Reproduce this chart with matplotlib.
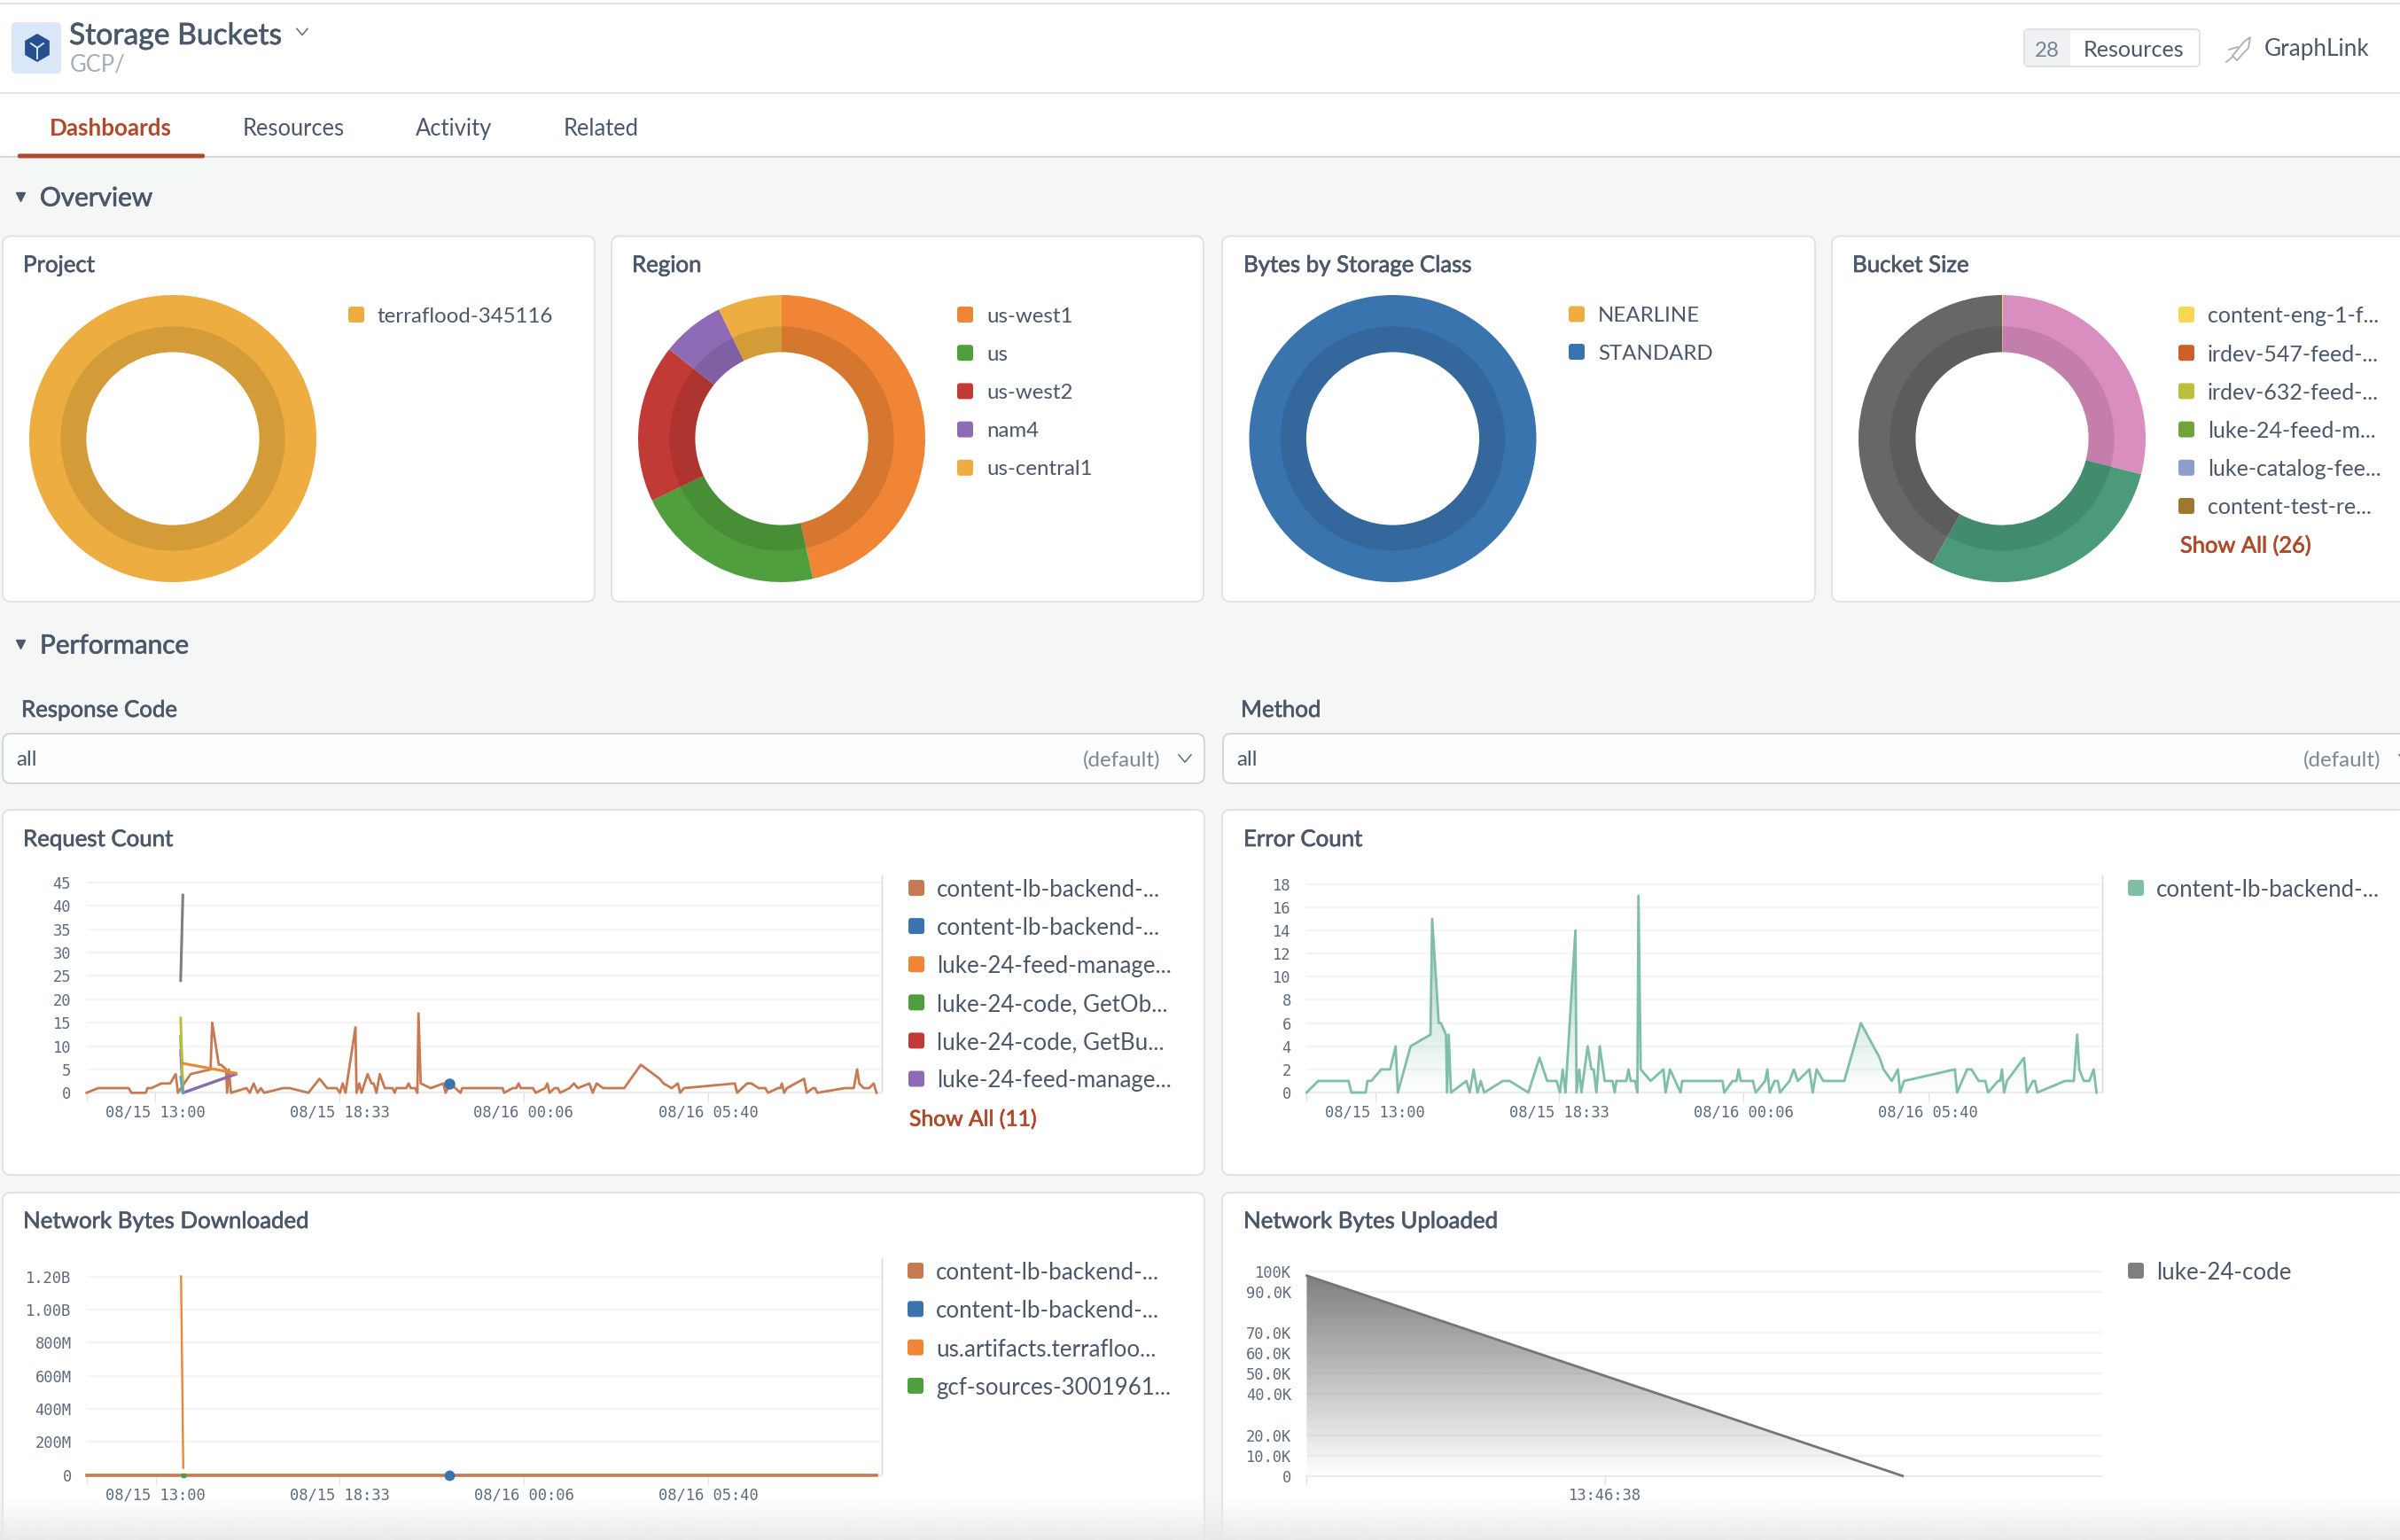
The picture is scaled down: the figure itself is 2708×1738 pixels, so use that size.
import matplotlib

matplotlib.use("Agg")
import matplotlib.patheffects as pe
import matplotlib.pyplot as plt
import numpy as np
from matplotlib.patches import FancyBboxPatch, Polygon, Rectangle, RegularPolygon

W, H = 2708, 1738
DPI = 100
PX = 72 / DPI  # one pixel in points

BG = "#f5f7f7"
INK = "#4a586a"
ACCENT = "#b0492a"
GRID = "#f3f4f5"
TICK_TEXT = "#5d6b7b"
MONO = "DejaVu Sans Mono"

YELLOW = "#edad40"
ORANGE = "#ef8535"
GREEN = "#509f3e"
RED = "#c23a35"
PURPLE = "#8f6ab6"
BLUE = "#3a74ae"
BROWN = "#c77a52"
TEAL = "#7fbfa5"
GRAY = "#7f7f7f"
OLIVE = "#bdbd3e"
SKY = "#5ba5c9"

# donut shares
project_names = ["terraflood-345116"]
project_values = [100]
region_names = ["us-west1", "us", "us-west2", "nam4", "us-central1"]
region_values = [46.5, 21.4, 17.8, 7.1, 7.2]
storage_names = ["NEARLINE", "STANDARD"]
storage_values = [0, 100]
bucket_names = [
    "content-eng-1-f...",
    "irdev-547-feed-...",
    "irdev-632-feed-...",
    "luke-24-feed-m...",
    "luke-catalog-fee...",
    "content-test-re...",
]
bucket_values = [0.1, 28.9, 29.1, 41.9]
bucket_colors = ["#f9d654", "#da8dbf", "#4b9b7a", "#676767"]
bucket_legend_colors = ["#f9d654", "#cc6028", "#bdbd3e", "#71a33a", "#8e9dc9", "#a0772f"]

# minutes after 08/15 13:00
backend_minutes = [
    -124, -103, -48, -43, -17, -14, -7, 11, 27, 37, 41, 64, 100, 103, 115, 119,
    128, 130, 133, 137, 165, 171, 178, 185, 191, 197, 231, 243, 277, 297, 311,
    328, 334, 339, 344, 362, 364, 369, 373, 384, 391, 395, 400, 406, 415, 429,
    433, 436, 454, 458, 462, 470, 474, 476, 480, 498, 521, 525, 533, 552, 555,
    628, 631, 646, 653, 657, 661, 683, 688, 705, 709, 713, 722, 728, 732, 749,
    757, 764, 785, 791, 798, 810, 848, 878, 912, 919, 934, 945, 949, 956, 1048,
    1052, 1070, 1078, 1091, 1103, 1108, 1126, 1130, 1133, 1137, 1142, 1173,
    1178, 1189, 1193, 1197, 1247, 1263, 1269, 1273, 1281, 1291, 1299, 1304,
]
backend_counts = [
    0, 1, 1, 0, 0, 1, 1, 2, 2, 4, 0, 4, 5, 15, 6, 6,
    5, 0, 5, 0, 1, 0, 2, 0, 1, 0, 1, 1, 0, 3, 1,
    1, 0, 2, 0, 14, 0, 2, 0, 4, 2, 2, 0, 4, 1, 1,
    0, 1, 1, 2, 1, 1, 0, 17, 2, 1, 2, 0, 2, 0, 1,
    1, 0, 1, 1, 2, 1, 1, 0, 1, 2, 0, 1, 1, 0, 1,
    2, 1, 2, 0, 2, 1, 1, 6, 3, 2, 1, 2, 0, 1, 2,
    0, 2, 2, 1, 1, 0, 1, 1, 2, 0, 1, 3,
    0, 1, 1, 0, 1, 1, 5, 2, 1, 1, 2, 0,
]

# short series at the left of Request Count: (minutes, counts, colour)
request_extra = [
    ([50, 46], [42.3, 24], GRAY),
    ([46, 50, 146], [12, 0, 4], GREEN),
    ([46, 50, 146], [9, 0, 4], PURPLE),
    ([46, 50], [16, 0.5], OLIVE),
    ([46, 50], [3.3, 0], SKY),
    ([50, 146], [6.3, 4.2], ORANGE),
]
request_dot = (532, 2)

request_ticks = [0, 5, 10, 15, 20, 25, 30, 35, 40, 45]
error_ticks = [0, 2, 4, 6, 8, 10, 12, 14, 16, 18]
time_ticks = [0, 333, 666, 1000]
time_labels = ["08/15 13:00", "08/15 18:33", "08/16 00:06", "08/16 05:40"]

request_legend = [
    "content-lb-backend-...",
    "content-lb-backend-...",
    "luke-24-feed-manage...",
    "luke-24-code, GetOb...",
    "luke-24-code, GetBu...",
    "luke-24-feed-manage...",
]
request_legend_colors = [BROWN, BLUE, ORANGE, GREEN, RED, PURPLE]

download_minutes = [-124, 1304]
download_bytes = [0, 0]
download_spike_minutes = [46, 50]
download_spike_bytes = [1.2e9, 43e6]
download_ticks = [0, 200e6, 400e6, 600e6, 800e6, 1000e6, 1200e6]
download_labels = ["0", "200M", "400M", "600M", "800M", "1.00B", "1.20B"]
download_legend = [
    "content-lb-backend-...",
    "content-lb-backend-...",
    "us.artifacts.terrafloo...",
    "gcf-sources-3001961...",
]
download_legend_colors = [BROWN, BLUE, ORANGE, GREEN]

# seconds around 13:46:38
upload_seconds = [-60, 60]
upload_bytes = [98000, 0]
upload_ticks = [0, 10e3, 20e3, 40e3, 50e3, 60e3, 70e3, 90e3, 100e3]
upload_labels = ["0", "10.0K", "20.0K", "40.0K", "50.0K", "60.0K", "70.0K", "90.0K", "100K"]

plt.rcParams["font.family"] = ["Lato", "DejaVu Sans"]

TITLE_SIZE = 18.6
LEGEND_SIZE = 17.3
CHART_LEGEND_SIZE = 18.6


def axes_px(fig, x0, y0, x1, y1, **kw):
    ax = fig.add_axes([x0 / W, 1 - y1 / H, (x1 - x0) / W, (y1 - y0) / H], **kw)
    ax.patch.set_alpha(0)
    return ax


def card(ui, x0, y0, x1, y1, face="white", edge="#dfe3e6"):
    ui.add_patch(
        FancyBboxPatch(
            (x0, y0), x1 - x0, y1 - y0,
            boxstyle="round,pad=0,rounding_size=9",
            fc=face, ec=edge, lw=1.4, zorder=1,
        )
    )


def label(ui, x, y, s, size=16.5, color=INK, weight="normal", ha="left", strong=False):
    t = ui.text(x, y, s, fontsize=size, color=color, weight=weight, ha=ha, va="center_baseline", zorder=5)
    if strong:
        # no medium cut of the font, thicken the regular one a little
        t.set_path_effects([pe.withStroke(linewidth=0.5, foreground=color)])


def swatch(ui, x, y, color):
    ui.add_patch(
        FancyBboxPatch(
            (x + 3, y - 6), 12, 12,
            boxstyle="round,pad=3,rounding_size=3",
            fc=color, ec="none", zorder=4,
        )
    )


def legend(ui, x, y, names, colors, step=43.2, text_dx=33, size=LEGEND_SIZE):
    for i, (name, color) in enumerate(zip(names, colors)):
        swatch(ui, x, y + i * step, color)
        label(ui, x + text_dx, y + i * step, name, size=size)


def chevron(ui, x, y, size=6, color="#5d6b7b"):
    ui.plot([x - size, x, x + size], [y - size * 0.6, y + size * 0.6, y - size * 0.6], color=color, lw=1.1, zorder=5)


def donut(fig, cx, cy, values, colors):
    radius = 162
    ax = axes_px(fig, cx - radius, cy - radius, cx + radius, cy + radius)
    ax.pie(
        values, colors=colors, startangle=90, counterclock=False,
        wedgeprops={"width": 1 - 97.6 / radius, "linewidth": 0},
    )
    # darker inner band
    ax.pie(
        [1], colors=["black"], radius=126.6 / radius,
        wedgeprops={"width": (126.6 - 97.6) / radius, "linewidth": 0, "alpha": 0.1},
    )
    ax.set_xlim(-1, 1)
    ax.set_ylim(-1, 1)


def style_chart(ax, xticks, xlabels, yticks, ylabels, xlim, ylim, right_line=True):
    ax.set_xlim(*xlim)
    ax.set_ylim(*ylim)
    ax.set_yticks(yticks, ylabels)
    ax.set_xticks([xlim[0]] + list(xticks), [""] + list(xlabels))
    ax.tick_params(axis="y", length=0, pad=12.5, labelsize=12.3, labelcolor=TICK_TEXT)
    ax.tick_params(axis="x", length=10 * PX, width=1, color="#dfe3e6", pad=2.5, labelsize=12.3, labelcolor=TICK_TEXT)
    for tick in ax.get_xticklabels() + ax.get_yticklabels():
        tick.set_fontfamily(MONO)
    ax.grid(axis="y", color=GRID, lw=1.5)
    ax.set_axisbelow(True)
    for side in ["top", "left"]:
        ax.spines[side].set_visible(False)
    ax.spines["bottom"].set_color("#e9ebed")
    ax.spines["bottom"].set_linewidth(1.5)
    ax.spines["right"].set_color("#d5d9dd")
    ax.spines["right"].set_linewidth(1)
    ax.spines["right"].set_visible(right_line)


def gradient_fill(ax, xs, ys, color, top_alpha, y_top, zorder=1.5):
    rgb = matplotlib.colors.to_rgb(color)
    ramp = np.zeros((256, 1, 4))
    ramp[..., :3] = rgb
    ramp[:, 0, 3] = np.linspace(top_alpha, 0, 256)
    x0, x1 = ax.get_xlim()
    img = ax.imshow(
        ramp, extent=[x0, x1, 0, y_top], origin="upper",
        aspect="auto", zorder=zorder, interpolation="bilinear",
    )
    poly = Polygon(
        list(zip(xs, ys)) + [(xs[-1], 0), (xs[0], 0)],
        closed=True, transform=ax.transData, fc="none", ec="none",
    )
    ax.add_patch(poly)
    img.set_clip_path(poly)
    ax.set_xlim(x0, x1)


def header(ui):
    ui.add_patch(Rectangle((0, 0), W, 177, fc="white", ec="none", zorder=0.5))
    ui.plot([0, W], [3.5, 3.5], color="#d9dcdf", lw=1.2, zorder=2)
    ui.plot([0, W], [105, 105], color="#dfe2e5", lw=1.2, zorder=2)
    ui.plot([0, W], [177, 177], color="#d3d9de", lw=1.6, zorder=2)
    ui.add_patch(
        FancyBboxPatch((20, 173.5), 211, 5, boxstyle="round,pad=0,rounding_size=2", fc=ACCENT, ec="none", zorder=3)
    )

    # cube icon
    ui.add_patch(FancyBboxPatch((13, 25), 56, 58, boxstyle="round,pad=0,rounding_size=6", fc="#d9e7f9", ec="none", zorder=2))
    ui.add_patch(RegularPolygon((42, 54), 6, radius=16, fc="#27508f", ec="none", zorder=3))
    ui.plot([35, 42, 49], [49, 54, 49], color="#d9e7f9", lw=1.4, zorder=4)
    ui.plot([42, 42], [54, 66], color="#d9e7f9", lw=1.4, zorder=4)

    label(ui, 78, 37, "Storage Buckets", size=24.2, strong=True)
    chevron(ui, 341, 36, size=6)
    label(ui, 79, 71, "GCP/", size=18.4, color="#a4adb8")

    label(ui, 56, 143, "Dashboards", size=18.7, color=ACCENT, weight="bold")
    label(ui, 274, 143, "Resources", size=18.4)
    label(ui, 469, 143, "Activity", size=18.4)
    label(ui, 636, 143, "Related", size=18.4)

    ui.add_patch(FancyBboxPatch((2284, 33), 198, 42, boxstyle="round,pad=0,rounding_size=5", fc="white", ec="#d8dce0", lw=1.2, zorder=2))
    ui.add_patch(Rectangle((2285, 34), 51, 40, fc="#eff1f3", ec="none", zorder=3))
    label(ui, 2310, 55, "28", size=17.4, color="#77838f", ha="center")
    label(ui, 2351, 55, "Resources", size=18.2)
    label(ui, 2555, 53, "GraphLink", size=18.8)
    # rocket outline
    ui.add_patch(
        Polygon(
            [(2539, 42), (2537, 54), (2524, 68), (2519, 63), (2532, 47)],
            closed=True, fc="white", ec="#a9b1ba", lw=1.3, zorder=3,
        )
    )
    ui.plot([2515, 2525], [56, 53], color="#a9b1ba", lw=1.3, zorder=3)
    ui.plot([2512, 2519], [70, 64], color="#a9b1ba", lw=1.3, zorder=3)


def section(ui, y, title):
    ui.plot([23], [y], marker="v", ms=6.5, color=INK, ls="none", zorder=5)
    label(ui, 45, y - 1, title, size=21.4, strong=True)


def overview(fig, ui):
    section(ui, 222, "Overview")
    for x0, x1, x_title, title in [
        (3, 671, 26, "Project"),
        (690, 1358, 713, "Region"),
        (1379, 2048, 1403, "Bytes by Storage Class"),
        (2067, 2760, 2090, "Bucket Size"),
    ]:
        card(ui, x0, 266.5, x1, 679)
        label(ui, x_title, 297, title, size=TITLE_SIZE, strong=True)

    donut(fig, 195, 495, project_values, [YELLOW])
    legend(ui, 393, 355, project_names, [YELLOW])

    region_colors = [ORANGE, GREEN, RED, PURPLE, YELLOW]
    donut(fig, 882, 495, region_values, region_colors)
    legend(ui, 1080, 355, region_names, region_colors)

    donut(fig, 1571.5, 495, storage_values, [YELLOW, BLUE])
    legend(ui, 1770, 354.5, storage_names, [YELLOW, BLUE], step=42.5)

    donut(fig, 2259, 495, bucket_values, bucket_colors)
    legend(ui, 2458, 355, bucket_names, bucket_legend_colors, size=18.0)
    label(ui, 2460, 614, "Show All (26)", size=18.3, color=ACCENT, strong=True)


def performance(ui):
    section(ui, 727, "Performance")
    label(ui, 24, 799, "Response Code", size=18.6, strong=True)
    label(ui, 1400, 799, "Method", size=18.6, strong=True)
    for x0, x1, x_all, x_default in [(3, 1359, 18, 1309), (1380, 2760, 1395, 2686)]:
        card(ui, x0, 828, x1, 884, face="#fcfdfd", edge="#d0d6db")
        label(ui, x_all, 856, "all", size=17.4)
        label(ui, x_default, 856, "(default)", size=17.4, color="#7d8894", ha="right")
        chevron(ui, x_default + 28, 856, size=7)


def request_chart(fig, ui):
    card(ui, 3, 914, 1359, 1326)
    label(ui, 26, 945, "Request Count", size=TITLE_SIZE, strong=True)
    ax = axes_px(fig, 97.5, 988, 995, 1233.3)
    style_chart(
        ax, time_ticks, time_labels, request_ticks, [str(t) for t in request_ticks],
        (-124.4, 1313.7), (0, 46.5),
    )
    ax.plot(backend_minutes, backend_counts, color=BROWN, lw=2.0, clip_on=False, zorder=3)
    for xs, ys, color in request_extra:
        ax.plot(xs, ys, color=color, lw=2.2, clip_on=False, zorder=4)
    ax.plot(*request_dot, marker="o", ms=8, color=BLUE, ls="none", zorder=5)
    legend(ui, 1025, 1002, request_legend, request_legend_colors, step=43.1, text_dx=32, size=CHART_LEGEND_SIZE)
    label(ui, 1026, 1261, "Show All (11)", size=17.8, color=ACCENT, strong=True)


def error_chart(fig, ui):
    card(ui, 1379, 914, 2760, 1326)
    label(ui, 1403, 945, "Error Count", size=TITLE_SIZE, strong=True)
    ax = axes_px(fig, 1474, 988, 2371.6, 1233)
    style_chart(
        ax, time_ticks, time_labels, error_ticks, [str(t) for t in error_ticks],
        (-124.4, 1313.7), (0, 18.75),
    )
    gradient_fill(ax, backend_minutes, backend_counts, TEAL, 0.85, 17)
    ax.plot(backend_minutes, backend_counts, color=TEAL, lw=2.0, clip_on=False, zorder=3)
    legend(ui, 2401, 1002, ["content-lb-backend-..."], [TEAL], text_dx=32, size=CHART_LEGEND_SIZE)


def download_chart(fig, ui):
    card(ui, 3, 1346, 1359, 1800)
    label(ui, 26, 1376, "Network Bytes Downloaded", size=TITLE_SIZE, strong=True)
    ax = axes_px(fig, 98, 1420, 995, 1664.7)
    style_chart(
        ax, time_ticks, time_labels, download_ticks, download_labels,
        (-124.4, 1313.7), (0, 1.31e9),
    )
    ax.plot(download_spike_minutes, download_spike_bytes, color=ORANGE, lw=1.7, zorder=3)
    ax.plot([50], [0], marker="s", ms=3.5, color=GREEN, ls="none", clip_on=False, zorder=5)
    ax.plot(download_minutes, download_bytes, color=BROWN, lw=2.6, clip_on=False, zorder=4)
    ax.plot([531], [0], marker="o", ms=7.5, color=BLUE, ls="none", clip_on=False, zorder=5)
    legend(ui, 1024, 1434, download_legend, download_legend_colors, step=43.3, text_dx=32, size=CHART_LEGEND_SIZE)


def upload_chart(fig, ui):
    card(ui, 1379, 1346, 2760, 1800)
    label(ui, 1403, 1376, "Network Bytes Uploaded", size=TITLE_SIZE, strong=True)
    ax = axes_px(fig, 1474.4, 1420, 2372, 1665.7)
    style_chart(
        ax, [0], ["13:46:38"], upload_ticks, upload_labels,
        (-60, 100.2), (0, 106500), right_line=False,
    )
    gradient_fill(ax, upload_seconds, upload_bytes, GRAY, 1.0, 98000)
    ax.plot(upload_seconds, upload_bytes, color="#757575", lw=2.0, clip_on=False, zorder=3)
    legend(ui, 2401, 1434, ["luke-24-code"], [GRAY], text_dx=32, size=CHART_LEGEND_SIZE)


def main():
    fig = plt.figure(figsize=(W / DPI, H / DPI), dpi=DPI, facecolor=BG)
    ui = fig.add_axes([0, 0, 1, 1])
    ui.set_xlim(0, W)
    ui.set_ylim(H, 0)
    ui.axis("off")
    ui.set_autoscale_on(False)

    header(ui)
    overview(fig, ui)
    performance(ui)
    request_chart(fig, ui)
    error_chart(fig, ui)
    download_chart(fig, ui)
    upload_chart(fig, ui)

    # page fades out at the bottom
    fade = axes_px(fig, 0, 1690, W, H)
    ramp = np.zeros((64, 1, 4))
    ramp[..., :3] = matplotlib.colors.to_rgb("#e9eaea")
    ramp[:, 0, 3] = np.linspace(0, 1, 64)
    fade.imshow(ramp, aspect="auto", origin="upper", interpolation="bilinear")
    fade.axis("off")

    fig.savefig("out.png", dpi=DPI, facecolor=BG)
    plt.close(fig)


if __name__ == "__main__":
    main()
